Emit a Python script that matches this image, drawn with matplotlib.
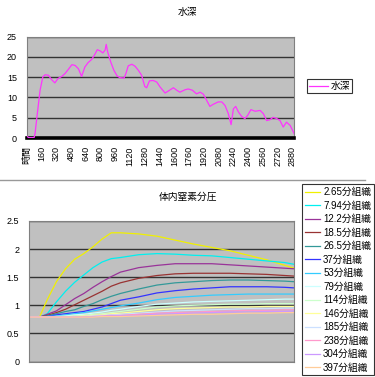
import matplotlib.pyplot as plt
from matplotlib.lines import Line2D

plt.rcParams['font.family'] = ['Liberation Sans', 'Noto Sans CJK JP']

# --- depth profile (time in min, depth in m) ---
depth_time = [0, 20, 80, 90, 115, 145, 175, 200, 235, 270,
              305, 340, 380, 415, 450, 490, 525, 560, 595, 630,
              665, 705, 740, 765, 795, 825, 850, 862, 878, 910,
              945, 980, 1010, 1055, 1075, 1100, 1140, 1175, 1210, 1245,
              1280, 1300, 1330, 1370, 1410, 1445, 1500, 1535, 1590, 1625,
              1660, 1715, 1750, 1795, 1840, 1880, 1915, 1950, 1985, 2020,
              2075, 2115, 2150, 2185, 2215, 2240, 2265, 2295, 2330, 2365,
              2395, 2430, 2475, 2530, 2565, 2600, 2635, 2670, 2710, 2745,
              2780, 2815, 2855, 2900]
depth_m = [0.5, 0.1, 0.1, 1.0, 6.0, 11.8, 15.1, 15.6, 15.5, 14.4,
           13.6, 14.7, 15.2, 15.9, 16.9, 18.1, 17.9, 17.1, 15.2, 17.5,
           18.6, 19.4, 20.7, 21.8, 21.5, 21.0, 21.7, 23.1, 21.2, 18.8,
           16.7, 15.3, 14.9, 14.8, 15.9, 17.8, 18.2, 17.7, 16.7, 15.5,
           12.7, 12.4, 14.1, 14.2, 13.8, 12.6, 11.1, 11.6, 12.4, 11.8,
           11.3, 11.9, 12.1, 11.8, 10.9, 11.3, 10.8, 9.3, 7.8, 8.3,
           8.9, 8.9, 8.0, 6.0, 3.3, 7.2, 7.8, 6.4, 5.3, 4.8,
           5.6, 7.0, 6.6, 6.8, 6.0, 4.3, 4.5, 5.1, 4.8, 4.3,
           2.7, 3.9, 3.1, 1.0]
time_ticks = [0, 160, 320, 480, 640, 800, 960, 1120, 1280, 1440, 1600,
              1760, 1920, 2080, 2240, 2400, 2560, 2720, 2880]
time_labels = ['時間', '160', '320', '480', '640', '800', '960', '1120', '1280',
               '1440', '1600', '1760', '1920', '2080', '2240', '2400', '2560',
               '2720', '2880']

# --- tissue N2 partial pressure ---
n2_time = [0, 115, 200, 300, 400, 500, 600, 700, 800, 900, 1000,
           1200, 1400, 1600, 1800, 2000, 2200, 2400, 2600, 2800, 2900]
tissues = ['2.65分組織', '7.94分組織', '12.2分組織', '18.5分組織', '26.5分組織',
           '37分組織', '53分組織', '79分組織', '114分組織', '146分組織',
           '185分組織', '238分組織', '304分組織', '397分組織']
n2_265 = [.79, .79, 1.10, 1.42, 1.65, 1.82, 1.92, 2.04, 2.18, 2.29, 2.29,
          2.27, 2.23, 2.16, 2.09, 2.03, 1.97, 1.89, 1.81, 1.71, 1.66]
n2_794 = [.79, .79, .85, 1.06, 1.25, 1.41, 1.54, 1.67, 1.77, 1.83, 1.85,
          1.90, 1.92, 1.91, 1.89, 1.88, 1.85, 1.82, 1.79, 1.76, 1.73]
n2_122 = [.79, .79, .84, .90, 1.01, 1.12, 1.21, 1.32, 1.42, 1.51, 1.59,
          1.67, 1.71, 1.74, 1.74, 1.74, 1.72, 1.70, 1.68, 1.66, 1.65]
n2_185 = [.79, .79, .82, .87, .93, 1.01, 1.09, 1.17, 1.25, 1.34, 1.40,
          1.48, 1.53, 1.56, 1.57, 1.57, 1.57, 1.56, 1.55, 1.53, 1.52]
n2_265b = [.79, .79, .81, .85, .89, .92, .98, 1.03, 1.10, 1.16, 1.21,
           1.29, 1.36, 1.40, 1.42, 1.44, 1.45, 1.45, 1.44, 1.43, 1.42]
n2_37 = [.79, .79, .80, .83, .85, .87, .89, .93, .97, 1.03, 1.09,
         1.15, 1.22, 1.26, 1.29, 1.31, 1.33, 1.33, 1.33, 1.32, 1.31]
n2_53 = [.79, .79, .80, .81, .83, .85, .87, .90, .93, .96, .99,
         1.04, 1.10, 1.14, 1.16, 1.18, 1.19, 1.20, 1.20, 1.20, 1.20]
n2_79 = [.79, .79, .79, .80, .81, .83, .84, .86, .88, .91, .93,
         .98, 1.02, 1.04, 1.06, 1.07, 1.08, 1.09, 1.10, 1.11, 1.11]
n2_114 = [.79, .79, .79, .80, .80, .81, .82, .84, .85, .87, .89,
          .93, .97, .99, 1.00, 1.01, 1.02, 1.02, 1.03, 1.03, 1.03]
n2_146 = [.79, .79, .79, .79, .80, .80, .81, .82, .83, .85, .86,
          .89, .92, .94, .95, .96, .97, .97, .98, .98, .98]
n2_185b = [.79, .79, .79, .79, .79, .80, .80, .81, .82, .83, .84,
           .86, .88, .90, .91, .92, .93, .94, .94, .95, .95]
n2_238 = [.79, .79, .79, .79, .79, .79, .80, .80, .81, .82, .82,
          .84, .86, .87, .88, .89, .90, .91, .91, .92, .92]
n2_304 = [.79, .79, .79, .79, .79, .79, .79, .80, .80, .81, .81,
          .82, .84, .85, .86, .87, .88, .88, .89, .89, .90]
n2_397 = [.79, .79, .79, .79, .79, .79, .79, .79, .80, .80, .80,
          .81, .82, .83, .84, .84, .85, .86, .86, .87, .87]
n2_series = [n2_265, n2_794, n2_122, n2_185, n2_265b, n2_37, n2_53,
             n2_79, n2_114, n2_146, n2_185b, n2_238, n2_304, n2_397]
colors = ['#F0F000', '#00F0F0', '#993399', '#993333', '#339999', '#3333FF',
          '#33CCFF', '#CCFFFF', '#CCFFCC', '#FFFF99', '#CCE0FF', '#FF99CC',
          '#CC99FF', '#FFCC99']

W, H = 375, 377
fig = plt.figure(figsize=(W / 100, H / 100), dpi=100)

# top chart: depth
ax1 = fig.add_axes([26.7 / W, 1 - 138 / H, (294.3 - 26.7) / W, (138 - 36.7) / H])
ax1.set_facecolor('#C0C0C0')
ax1.plot(depth_time, depth_m, color='#FF33FF', lw=0.9, label='水深', zorder=3)
ax1.axhline(0, color='black', lw=2.6, zorder=2.6, clip_on=False)
ax1.set_xlim(0, 2900)
ax1.set_ylim(0, 25)
ax1.set_yticks([0, 5, 10, 15, 20, 25])
ax1.set_xticks(time_ticks)
ax1.set_xticklabels(time_labels, rotation=90)
ax1.yaxis.grid(True, color='#333333', lw=1)
ax1.set_axisbelow(True)
ax1.tick_params(length=0, labelsize=6.5, pad=7)
ax1.tick_params(axis='x', pad=6)
for s in ax1.spines.values():
    s.set_color('#808080')
    s.set_linewidth(0.8)
fig.text(0.5, 1 - 12 / H, '水深', ha='center', va='center', fontsize=7)
leg1 = ax1.legend(loc='upper left', bbox_to_anchor=(307 / W, 1 - 79 / H),
                  bbox_transform=fig.transFigure, fontsize=7, frameon=True,
                  fancybox=False, handlelength=2.0, handletextpad=0.2,
                  borderpad=0.2, borderaxespad=0)
leg1.get_frame().set_edgecolor('black')
leg1.get_frame().set_linewidth(0.8)

# separator between the two charts
fig.add_artist(Line2D([0, 365 / W], [1 - 180 / H] * 2, color='#999999', lw=1))

# bottom chart: tissue N2 pressure
ax2 = fig.add_axes([29 / W, 1 - 361.5 / H, 265 / W, 140.5 / H])
ax2.set_facecolor('#C0C0C0')
for vals, name, c in zip(n2_series, tissues, colors):
    ax2.plot(n2_time, vals, color=c, lw=0.9, label=name)
ax2.set_xlim(0, 2900)
ax2.set_ylim(0, 2.5)
ax2.set_yticks([0, 0.5, 1, 1.5, 2, 2.5])
ax2.set_yticklabels(['0', '0.5', '1', '1.5', '2', '2.5'])
ax2.set_xticks([])
ax2.yaxis.grid(True, color='#333333', lw=1)
ax2.set_axisbelow(True)
ax2.tick_params(length=0, labelsize=6.5, pad=7)
for s in ax2.spines.values():
    s.set_color('#808080')
    s.set_linewidth(0.8)
fig.text(188 / W, 1 - 197 / H, '体内窒素分圧', ha='center', va='center', fontsize=7)
leg2 = ax2.legend(loc='upper left', bbox_to_anchor=(301.7 / W, 1 - 184 / H),
                  bbox_transform=fig.transFigure, fontsize=7, frameon=True,
                  fancybox=False, handlelength=1.6, handletextpad=0.3,
                  borderpad=0.3, borderaxespad=0, labelspacing=0.36)
leg2.get_frame().set_edgecolor('black')
leg2.get_frame().set_linewidth(0.8)

fig.savefig('out.png', dpi=100, facecolor='white')
